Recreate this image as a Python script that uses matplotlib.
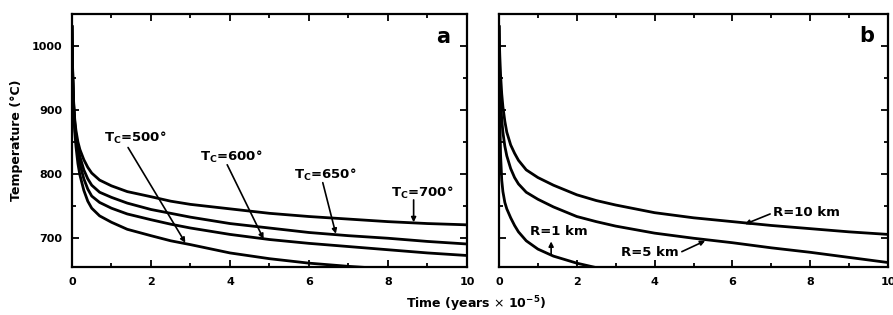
import matplotlib
matplotlib.use("Agg")
import matplotlib.pyplot as plt
from matplotlib.ticker import MultipleLocator

plt.rcParams['font.family'] = ['DejaVu Sans']
plt.rcParams['mathtext.fontset'] = 'dejavusans'

# ---- data: panel a (contact temperature Tc) ----
t_a = [0, 0.01, 0.02, 0.04, 0.07, 0.1, 0.15, 0.2, 0.3, 0.4, 0.5, 0.7, 1, 1.4,
       2, 2.5, 3, 4, 5, 6, 7, 8, 9, 10]
tc700 = [1030, 985, 955, 915, 885, 868, 850, 838, 822, 810, 801, 790, 781, 772,
         764, 757, 752, 745, 738, 733, 729, 725, 722, 720]
tc650 = [1030, 983, 952, 911, 880, 860, 840, 827, 806, 792, 782, 771, 763, 754,
         744, 738, 732, 722, 715, 708, 703, 699, 694, 690]
tc600 = [1030, 981, 949, 907, 875, 853, 831, 815, 792, 776, 765, 755, 746, 737,
         728, 721, 715, 705, 697, 691, 686, 681, 676, 672]
tc500 = [1030, 978, 945, 900, 866, 843, 816, 798, 774, 757, 746, 734, 724, 713,
         703, 695, 689, 676, 667, 660, 655, 651, 648, 645]

# ---- data: panel b (radius R) ----
t_b = [0, 0.01, 0.02, 0.04, 0.07, 0.1, 0.15, 0.2, 0.3, 0.4, 0.5, 0.7, 1, 1.4,
       2, 2.5, 3, 4, 5, 6, 7, 8, 9, 10]
r10 = [1030, 1005, 985, 955, 925, 905, 882, 865, 845, 832, 821, 806, 794, 782,
       767, 758, 751, 739, 731, 725, 719, 714, 709, 705]
r5 = [1030, 985, 955, 915, 885, 865, 843, 828, 808, 794, 784, 771, 760, 748,
      733, 725, 718, 707, 699, 692, 684, 677, 669, 661]
t_r1 = [0, 0.01, 0.02, 0.04, 0.07, 0.1, 0.15, 0.2, 0.3, 0.4, 0.5, 0.7, 1, 1.4,
        2, 2.5, 3, 4]
r1 = [1030, 940, 890, 830, 790, 772, 755, 745, 731, 719, 709, 695, 682, 671,
      660, 653, 648, 640]

xticks = [0, 2, 4, 6, 8, 10]
yticks = [700, 800, 900, 1000]

fig = plt.figure(figsize=(8.93, 3.15), dpi=100)
axa = fig.add_axes([0.0806, 0.1524, 0.4423, 0.8032])
axb = fig.add_axes([0.5588, 0.1524, 0.4356, 0.8032])

lw = 2.0
for ys in (tc700, tc650, tc600, tc500):
    axa.plot(t_a, ys, color='black', lw=lw, solid_joinstyle='round')
axb.plot(t_b, r10, color='black', lw=lw, solid_joinstyle='round')
axb.plot(t_b, r5, color='black', lw=lw, solid_joinstyle='round')
axb.plot(t_r1, r1, color='black', lw=lw, solid_joinstyle='round')

for ax in (axa, axb):
    ax.set_xlim(0, 10)
    ax.set_ylim(654, 1050)
    ax.set_xticks(xticks)
    ax.set_yticks(yticks)
    ax.xaxis.set_minor_locator(MultipleLocator(1))
    ax.yaxis.set_minor_locator(MultipleLocator(50))
    ax.tick_params(which='both', direction='in', top=True, right=True,
                   width=1.3, labelsize=8)
    ax.tick_params(which='major', length=5, pad=7)
    ax.tick_params(which='minor', length=3)
    for s in ax.spines.values():
        s.set_linewidth(1.6)
    for lab in ax.get_xticklabels() + ax.get_yticklabels():
        lab.set_fontweight('bold')
axb.set_yticklabels([])

axa.set_ylabel('Temperature (°C)', fontsize=9, fontweight='bold', labelpad=6)
fig.text(0.533, 0.035, r'Time (years $\times$ 10$^{\mathbf{-5}}$)', ha='center', va='center',
         fontsize=9, fontweight='bold')

axa.text(9.39, 1014, 'a', fontsize=15, fontweight='bold', ha='center', va='center')
axb.text(9.46, 1016, 'b', fontsize=15, fontweight='bold', ha='center', va='center')

ap = dict(arrowstyle='-|>', lw=1.2, color='black', mutation_scale=7,
          shrinkA=0, shrinkB=0)
tkw = dict(fontsize=9.5, fontweight='bold', ha='center', va='center')

axa.text(1.6, 856, r'$\mathbf{T_C}$=500°', **tkw)
axa.annotate('', xy=(2.87, 692), xytext=(1.42, 841), arrowprops=ap)
axa.text(4.04, 827, r'$\mathbf{T_C}$=600°', **tkw)
axa.annotate('', xy=(4.85, 698), xytext=(3.93, 814), arrowprops=ap)
axa.text(6.42, 798, r'$\mathbf{T_C}$=650°', **tkw)
axa.annotate('', xy=(6.68, 706), xytext=(6.35, 786), arrowprops=ap)
axa.text(8.88, 770, r'$\mathbf{T_C}$=700°', **tkw)
axa.annotate('', xy=(8.65, 724), xytext=(8.65, 759), arrowprops=ap)

axb.text(7.04, 739, 'R=10 km', fontsize=9.5, fontweight='bold', ha='left', va='center')
axb.annotate('', xy=(6.32, 721), xytext=(6.97, 737), arrowprops=ap)
axb.text(3.88, 677, 'R=5 km', fontsize=9.5, fontweight='bold', ha='center', va='center')
axb.annotate('', xy=(5.3, 695), xytext=(4.7, 678), arrowprops=ap)
axb.text(1.54, 709, 'R=1 km', fontsize=9.5, fontweight='bold', ha='center', va='center')
axb.annotate('', xy=(1.34, 694), xytext=(1.34, 673), arrowprops=ap)

fig.savefig('out.png', dpi=100)
